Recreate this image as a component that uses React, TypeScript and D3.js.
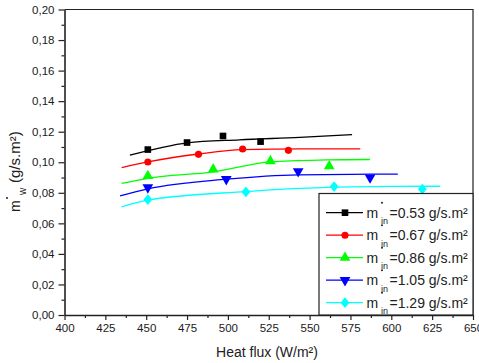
import React, { useEffect, useRef } from "react";
import * as d3 from "d3";

const seriesLabels = ["0.53", "0.67", "0.86", "1.05", "1.29"];
const seriesColors = ["#000000", "#ff0000", "#00ff00", "#0000ff", "#00ffff"];

// measured points
const flux053 = [451, 475, 497, 520];
const mw053 = [0.1083, 0.1129, 0.1172, 0.1135];
const flux067 = [451, 482, 509, 537];
const mw067 = [0.1002, 0.1052, 0.1087, 0.1078];
const flux086 = [451, 491, 526, 562];
const mw086 = [0.091, 0.0954, 0.1008, 0.0974];
const flux105 = [451, 499, 543, 587];
const mw105 = [0.0835, 0.0889, 0.0941, 0.09];
const flux129 = [451, 511, 565, 619];
const mw129 = [0.0756, 0.0806, 0.0841, 0.0824];

// fitted curves
const fitFlux053 = [440, 458, 475, 507, 544, 576];
const fitMw053 = [0.1046, 0.1093, 0.1127, 0.1147, 0.1163, 0.1181];
const fitFlux067 = [435, 451, 482, 509, 545, 581];
const fitMw067 = [0.0965, 0.1002, 0.1054, 0.1083, 0.1087, 0.1087];
const fitFlux086 = [435, 451, 491, 526, 560, 587];
const fitMw086 = [0.0861, 0.0895, 0.0937, 0.1003, 0.1015, 0.1018];
const fitFlux105 = [434, 451, 499, 543, 575, 604];
const fitMw105 = [0.078, 0.0826, 0.0889, 0.0918, 0.0921, 0.0922];
const fitFlux129 = [435, 451, 511, 565, 600, 630];
const fitMw129 = [0.0708, 0.0752, 0.0808, 0.0837, 0.0842, 0.0843];

const xMajorTicks = [400, 425, 450, 475, 500, 525, 550, 575, 600, 625, 650];
const yMajorTicks = [0, 0.02, 0.04, 0.06, 0.08, 0.1, 0.12, 0.14, 0.16, 0.18, 0.2];

const pointsX = [flux053, flux067, flux086, flux105, flux129];
const pointsY = [mw053, mw067, mw086, mw105, mw129];
const fitsX = [fitFlux053, fitFlux067, fitFlux086, fitFlux105, fitFlux129];
const fitsY = [fitMw053, fitMw067, fitMw086, fitMw105, fitMw129];

const W = 479;
const H = 363;
const left = 64.5;
const right = 473;
const top = 9.5;
const bottom = 315;

const FONT = "'Liberation Sans', Arial, sans-serif";

const triDown: d3.SymbolType = {
  draw(ctx, size) {
    const s = Math.sqrt(size / (Math.sqrt(3) / 4));
    const h = (s * Math.sqrt(3)) / 2;
    ctx.moveTo(-s / 2, -h / 3);
    ctx.lineTo(s / 2, -h / 3);
    ctx.lineTo(0, (2 * h) / 3);
    ctx.closePath();
  },
};
const triUp: d3.SymbolType = {
  draw(ctx, size) {
    const s = Math.sqrt(size / (Math.sqrt(3) / 4));
    const h = (s * Math.sqrt(3)) / 2;
    ctx.moveTo(-s / 2, h / 3);
    ctx.lineTo(s / 2, h / 3);
    ctx.lineTo(0, (-2 * h) / 3);
    ctx.closePath();
  },
};
const diamond: d3.SymbolType = {
  draw(ctx, size) {
    const r = Math.sqrt(size / 2);
    ctx.moveTo(0, -r * 1.1);
    ctx.lineTo(r * 0.9, 0);
    ctx.lineTo(0, r * 1.1);
    ctx.lineTo(-r * 0.9, 0);
    ctx.closePath();
  },
};
const symbols = [d3.symbolSquare, d3.symbolCircle, triUp, triDown, diamond];
const symSizes = [44, 40, 50, 50, 48];

export default function App() {
  const ref = useRef<SVGSVGElement>(null);

  useEffect(() => {
    const svg = d3.select(ref.current);
    svg.selectAll("*").remove();

    const x = d3.scaleLinear().domain([400, 650]).range([left, right]);
    const y = d3.scaleLinear().domain([0, 0.2]).range([bottom, top]);

    svg.append("rect").attr("width", W).attr("height", H).attr("fill", "#fff");

    // frame top & right
    svg
      .append("path")
      .attr("d", `M${left},${top}H${right}V${bottom}`)
      .attr("fill", "none")
      .attr("stroke", "#222")
      .attr("stroke-width", 1.2);

    // fits
    const line = d3
      .line<[number, number]>()
      .x((d) => x(d[0]))
      .y((d) => y(d[1]))
      .curve(d3.curveMonotoneX);
    fitsX.forEach((fx, i) => {
      const data = fx.map((v, j) => [v, fitsY[i][j]] as [number, number]);
      svg
        .append("path")
        .attr("d", line(data))
        .attr("fill", "none")
        .attr("stroke", seriesColors[i])
        .attr("stroke-width", 1.3);
    });

    // points
    pointsX.forEach((px, i) => {
      const sym = d3.symbol().type(symbols[i]).size(symSizes[i]);
      px.forEach((v, j) => {
        svg
          .append("path")
          .attr("d", sym())
          .attr("transform", `translate(${x(v)},${y(pointsY[i][j])})`)
          .attr("fill", seriesColors[i]);
      });
    });

    // axes
    const xAxis = d3
      .axisBottom(x)
      .tickValues(xMajorTicks)
      .tickSize(5)
      .tickSizeOuter(0)
      .tickFormat((d) => d3.format("d")(d as number));
    const gx = svg.append("g").attr("transform", `translate(0,${bottom})`).call(xAxis);
    const xMinor = d3.axisBottom(x).tickValues(xMajorTicks.slice(0, -1).map((v) => v + 12.5)).tickSize(3).tickFormat(() => "");
    const gxm = svg.append("g").attr("transform", `translate(0,${bottom})`).call(xMinor);
    gxm.select(".domain").remove();

    const yAxis = d3
      .axisLeft(y)
      .tickValues(yMajorTicks)
      .tickSize(6)
      .tickSizeOuter(0)
      .tickFormat((d) => d3.format(".2f")(d as number).replace(".", ","));
    const gy = svg.append("g").attr("transform", `translate(${left},0)`).call(yAxis);
    const yMinor = d3.axisLeft(y).tickValues(yMajorTicks.slice(0, -1).map((v) => v + 0.01)).tickSize(3).tickFormat(() => "");
    const gym = svg.append("g").attr("transform", `translate(${left},0)`).call(yMinor);
    gym.select(".domain").remove();

    [gx, gy, gxm, gym].forEach((g) => {
      g.selectAll("line").attr("stroke", "#222").attr("stroke-width", 1.2);
      g.select(".domain").attr("stroke", "#222").attr("stroke-width", 1.6);
      g.selectAll("text")
        .attr("font-family", FONT)
        .attr("font-size", 11.5)
        .attr("fill", "#1a1a1a");
    });
    gx.selectAll("text").attr("dy", "0.71em").attr("y", 9);
    gy.selectAll("text").attr("x", -10);

    // x label
    svg
      .append("text")
      .attr("x", 267)
      .attr("y", 357)
      .attr("text-anchor", "middle")
      .attr("font-family", FONT)
      .attr("font-size", 14)
      .attr("fill", "#222")
      .text("Heat flux (W/m²)");

    // y label
    const gl = svg.append("g").attr("transform", `translate(20,212) rotate(-90)`);
    const yl = gl.append("text").attr("font-family", FONT).attr("fill", "#222");
    yl.append("tspan").attr("x", 0).attr("y", 0).attr("font-size", 14).text("m");
    yl.append("tspan").attr("x", 17).attr("y", 6).attr("font-size", 10).text("w");
    yl.append("tspan").attr("x", 29).attr("y", 0).attr("font-size", 15).text("(g/s.m²)");
    gl.append("circle").attr("cx", 14).attr("cy", -13).attr("r", 1).attr("fill", "#222");

    // legend
    const lx = 319;
    const ly = 193.5;
    svg
      .append("rect")
      .attr("x", lx)
      .attr("y", ly)
      .attr("width", right - lx)
      .attr("height", bottom - ly)
      .attr("fill", "#fff")
      .attr("stroke", "#222")
      .attr("stroke-width", 1.2);

    seriesLabels.forEach((lab, i) => {
      const cy = 212.7 + i * 22.5;
      svg
        .append("line")
        .attr("x1", 326)
        .attr("x2", 363)
        .attr("y1", cy)
        .attr("y2", cy)
        .attr("stroke", seriesColors[i])
        .attr("stroke-width", 1.3);
      svg
        .append("path")
        .attr("d", d3.symbol().type(symbols[i]).size(symSizes[i])())
        .attr("transform", `translate(345,${cy})`)
        .attr("fill", seriesColors[i]);
      const t = svg.append("g").attr("font-family", FONT).attr("fill", "#222");
      t.append("text").attr("x", 366.5).attr("y", cy + 5).attr("font-size", 14).text("m");
      t.append("circle").attr("cx", 382).attr("cy", cy - 10).attr("r", 1).attr("fill", "#222");
      t.append("text").attr("x", 381).attr("y", cy + 11.5).attr("font-size", 9).text("in");
      t.append("text").attr("x", 389.5).attr("y", cy + 5).attr("font-size", 14).text(`=${lab} g/s.m²`);
    });
  }, []);

  return (
    <svg
      ref={ref}
      width={W}
      height={H}
      style={{ position: "absolute", left: 0, top: 0, display: "block" }}
    />
  );
}
